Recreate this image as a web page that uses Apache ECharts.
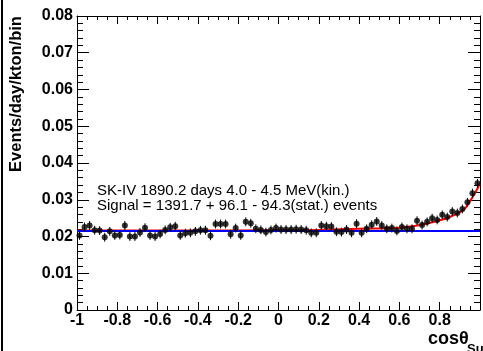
<!DOCTYPE html>
<html>
<head>
<meta charset="utf-8">
<script src="https://cdn.jsdelivr.net/npm/echarts@6/dist/echarts.min.js"></script>
<style>
  html, body { margin: 0; padding: 0; background: #fff; }
  #chart { width: 483px; height: 351px; }
</style>
</head>
<body>
<div id="chart"></div>
<script>
// histogram binning of cos(theta_sun)
const binLow = -1;
const binWidth = 0.025;

// data points (events/day/kton/bin), 80 bins
const rate = [
  0.0203, 0.0226, 0.0230, 0.0217, 0.0216, 0.0198, 0.0214, 0.0203, 0.0204, 0.0230,
  0.0200, 0.0200, 0.0211, 0.0224, 0.0203, 0.0200, 0.0207, 0.0218, 0.0225, 0.0228,
  0.0203, 0.0209, 0.0210, 0.0214, 0.0217, 0.0217, 0.0202, 0.0234, 0.0234, 0.0234,
  0.0206, 0.0223, 0.0203, 0.0240, 0.0236, 0.0221, 0.0218, 0.0212, 0.0218, 0.0223,
  0.0219, 0.0219, 0.0219, 0.0220, 0.0219, 0.0217, 0.0210, 0.0210, 0.0230, 0.0228,
  0.0227, 0.0213, 0.0212, 0.0219, 0.0210, 0.0235, 0.0210, 0.0221, 0.0232, 0.0241,
  0.0230, 0.0221, 0.0223, 0.0215, 0.0226, 0.0221, 0.0221, 0.0243, 0.0231, 0.0240,
  0.0250, 0.0245, 0.0259, 0.0253, 0.0268, 0.0264, 0.0275, 0.0293, 0.0318, 0.0345
];
const statErr = 0.0012;

// fit: background + signal (red), background only (blue)
const fitX = [-1, -0.5, 0, 0.2, 0.4, 0.5, 0.6, 0.65, 0.7, 0.75, 0.8, 0.85, 0.9, 0.925, 0.95, 0.975, 1.0];
const fitY = [0.0216, 0.0216, 0.0217, 0.0218, 0.0221, 0.0222, 0.0224, 0.0227, 0.0231, 0.0237, 0.0244, 0.0253, 0.0266, 0.0276, 0.0296, 0.0318, 0.0345];
const bgX = [-1, 1];
const bgY = [0.0215, 0.0215];

const points = rate.map((v, i) => [binLow + binWidth * (i + 0.5), v]);

const chart = echarts.init(document.getElementById('chart'));

const labelFont = { fontFamily: 'Liberation Sans', fontWeight: 'bold', fontSize: 16, color: '#000' };
const black = { color: '#000', width: 1 };

chart.setOption({
  animation: false,
  backgroundColor: '#fff',
  grid: { left: 77, right: -2, top: 16, bottom: 41 },
  xAxis: [
    {
      type: 'value', min: -1, max: 1, interval: 0.2,
      axisLine: { onZero: false, lineStyle: black },
      axisTick: { inside: true, length: 8, lineStyle: black },
      minorTick: { show: true, splitNumber: 4, length: 4, lineStyle: black },
      splitLine: { show: false },
      axisLabel: {
        ...labelFont, margin: 3,
        formatter: (v) => (Math.abs(v - 1) < 1e-6 ? '' : String(Math.round(v * 10) / 10))
      }
    },
    {
      type: 'value', min: -1, max: 1, interval: 0.2, position: 'top',
      axisLine: { onZero: false, lineStyle: black },
      axisTick: { inside: true, length: 8, lineStyle: black },
      minorTick: { show: true, splitNumber: 4, length: 4, lineStyle: black },
      splitLine: { show: false },
      axisLabel: { show: false }
    }
  ],
  yAxis: [
    {
      type: 'value', min: 0, max: 0.08, interval: 0.01,
      axisLine: { show: true, onZero: false, lineStyle: black },
      axisTick: { show: true, inside: true, length: 12, lineStyle: black },
      minorTick: { show: true, splitNumber: 5, length: 6, lineStyle: black },
      splitLine: { show: false },
      axisLabel: {
        ...labelFont, margin: 4,
        formatter: (v) => (v === 0 ? '0' : v.toFixed(2))
      }
    },
    {
      type: 'value', min: 0, max: 0.08, interval: 0.01, position: 'right',
      axisLine: { show: true, onZero: false, lineStyle: black },
      axisTick: { show: true, inside: true, length: 12, lineStyle: black },
      minorTick: { show: true, splitNumber: 5, length: 6, lineStyle: black },
      splitLine: { show: false },
      axisLabel: { show: false }
    }
  ],
  series: [
    {
      name: 'signal+bg', type: 'line', smooth: true, symbol: 'none',
      data: fitX.map((x, i) => [x, fitY[i]]),
      lineStyle: { color: '#ff0000', width: 2 }, z: 2
    },
    {
      name: 'bg', type: 'line', symbol: 'none',
      data: bgX.map((x, i) => [x, bgY[i]]),
      lineStyle: { color: '#0000ff', width: 2 }, z: 3
    },
    {
      name: 'errors', type: 'custom', z: 4,
      data: points,
      renderItem: (params, api) => {
        const lo = api.coord([api.value(0), api.value(1) - statErr]);
        const hi = api.coord([api.value(0), api.value(1) + statErr]);
        return {
          type: 'line',
          shape: { x1: lo[0], y1: lo[1], x2: hi[0], y2: hi[1] },
          style: { stroke: '#000', lineWidth: 1 }
        };
      }
    },
    {
      name: 'data', type: 'scatter', symbol: 'circle', symbolSize: 6, z: 5,
      data: points,
      itemStyle: { color: '#000' }
    }
  ],
  graphic: [
    {
      type: 'line', shape: { x1: 2, y1: 0, x2: 2, y2: 351 },
      style: { stroke: '#000', lineWidth: 2 }
    },
    {
      type: 'text', x: 16.5, y: 94, rotation: Math.PI / 2,
      style: {
        text: 'Events/day/kton/bin', fill: '#000',
        font: 'bold 16.5px "Liberation Sans"', textAlign: 'center', textVerticalAlign: 'middle'
      }
    },
    {
      type: 'text', x: 97, y: 190.8,
      style: {
        text: 'SK-IV 1890.2 days 4.0 - 4.5 MeV(kin.)', fill: '#000',
        font: '15px "Liberation Sans"', textAlign: 'left', textVerticalAlign: 'middle'
      }
    },
    {
      type: 'text', x: 97, y: 205.8,
      style: {
        text: 'Signal = 1391.7 + 96.1 - 94.3(stat.) events', fill: '#000',
        font: '15px "Liberation Sans"', textAlign: 'left', textVerticalAlign: 'middle'
      }
    },
    {
      type: 'text', x: 428, y: 338.8,
      style: {
        text: 'cosθ', fill: '#000',
        font: 'bold 18px "Liberation Sans"', textAlign: 'left', textVerticalAlign: 'middle'
      }
    },
    {
      type: 'text', x: 467, y: 349,
      style: {
        text: 'Sun', fill: '#000',
        font: 'bold 13px "Liberation Sans"', textAlign: 'left', textVerticalAlign: 'middle'
      }
    }
  ]
});
</script>
</body>
</html>
